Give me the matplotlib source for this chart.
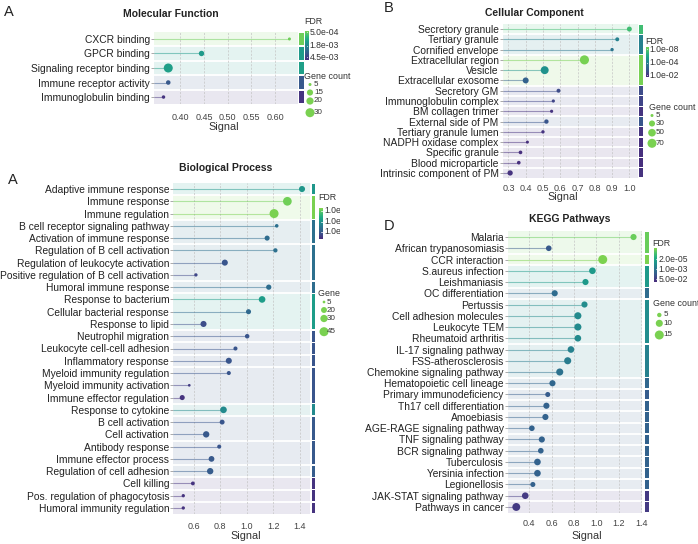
import numpy as np
import matplotlib.pyplot as plt
from matplotlib.colors import ListedColormap
from matplotlib.transforms import Bbox, TransformedBbox

plt.rcParams['font.family'] = ['Liberation Sans', 'DejaVu Sans']

# ---------------- data ----------------
mf_terms = ['CXCR binding', 'GPCR binding', 'Signaling receptor binding',
            'Immune receptor activity', 'Immunoglobulin binding']
mf_signal = [0.63, 0.445, 0.375, 0.375, 0.365]
mf_count = [5, 12, 30, 9, 6]
mf_fdr = [5.0e-4, 1.3e-3, 1.2e-3, 3.3e-3, 5.0e-3]
mf_group = [0, 1, 2, 3, 4]
mf_fdr_ticks = [5.0e-4, 1.8e-3, 4.5e-3]
mf_fdr_pos = [0.94, 0.49, 0.09]
mf_count_legend = [5, 15, 20, 30]

cc_terms = ['Secretory granule', 'Tertiary granule', 'Cornified envelope',
            'Extracellular region', 'Vesicle', 'Extracellular exosome',
            'Secretory GM', 'Immunoglobulin complex', 'BM collagen trimer',
            'External side of PM', 'Tertiary granule lumen', 'NADPH oxidase complex',
            'Specific granule', 'Blood microparticle', 'Intrinsic component of PM']
cc_signal = [1.00, 0.93, 0.90, 0.74, 0.51, 0.40, 0.59, 0.56, 0.55, 0.52,
             0.50, 0.41, 0.37, 0.36, 0.31]
cc_count = [19, 11, 7, 72, 54, 29, 11, 6, 6, 14, 7, 5, 9, 9, 22]
cc_fdr = [1e-7, 1.5e-4, 3.2e-4, 5e-9, 2.8e-5, 1.1e-3, 4e-3, 5.5e-3, 1.3e-2,
          2.3e-3, 1.3e-2, 1.6e-2, 1.6e-2, 1.6e-2, 1.4e-2]
cc_group = [0, 1, 1, 2, 2, 2, 3, 4, 5, 6, 7, 8, 9, 10, 11]
cc_fdr_ticks = [1.0e-8, 1.0e-4, 1.0e-2]
cc_fdr_pos = [0.93, 0.49, 0.07]
cc_count_legend = [5, 30, 50, 70]

bp_terms = ['Adaptive immune response', 'Immune response', 'Immune regulation',
            'B cell receptor signaling pathway', 'Activation of immune response',
            'Regulation of B cell activation', 'Regulation of leukocyte activation',
            'Positive regulation of B cell activation', 'Humoral immune response',
            'Response to bacterium', 'Cellular bacterial response', 'Response to lipid',
            'Neutrophil migration', 'Leukocyte cell-cell adhesion', 'Inflammatory response',
            'Myeloid immunity regulation', 'Myeloid immunity activation',
            'Immune effector regulation', 'Response to cytokine', 'B cell activation',
            'Cell activation', 'Antibody response', 'Immune effector process',
            'Regulation of cell adhesion', 'Cell killing',
            'Pos. regulation of phagocytosis', 'Humoral immunity regulation']
bp_signal = [1.415, 1.305, 1.205, 1.225, 1.153, 1.215, 0.835, 0.618, 1.165,
             1.115, 1.013, 0.675, 1.003, 0.915, 0.865, 0.865, 0.568, 0.515,
             0.825, 0.815, 0.695, 0.793, 0.735, 0.725, 0.595, 0.523, 0.523]
bp_count = [21, 42, 45, 8, 15, 11, 21, 7, 16, 25, 15, 21, 12, 10, 21, 10, 5,
            15, 25, 14, 23, 10, 19, 23, 9, 7, 7]
bp_fdr = [6e-9, 5e-13, 3e-13, 4.5e-6, 1e-5, 4.5e-6, 3.3e-4, 2.3e-3, 8e-6,
          2.6e-9, 1.3e-5, 1e-3, 3.3e-4, 3.3e-4, 3e-4, 3e-4, 1e-2, 4e-2,
          5.6e-8, 3e-4, 2e-4, 3e-4, 2e-4, 1e-4, 3e-2, 4e-2, 4e-2]
bp_group = [0, 1, 1, 2, 2, 3, 3, 3, 4, 5, 5, 5, 6, 7, 8, 9, 9, 9, 10, 11, 11,
            12, 12, 13, 14, 15, 16]
bp_fdr_ticks = [1.0e-12, 1.0e-8, 1.0e-4]
bp_fdr_pos = [0.92, 0.566, 0.245]
bp_count_legend = [5, 20, 30, 45]

kegg_terms = ['Malaria', 'African trypanosomiasis', 'CCR interaction',
              'S.aureus infection', 'Leishmaniasis', 'OC differentiation', 'Pertussis',
              'Cell adhesion molecules', 'Leukocyte TEM', 'Rheumatoid arthritis',
              'IL-17 signaling pathway', 'FSS-atherosclerosis',
              'Chemokine signaling pathway', 'Hematopoietic cell lineage',
              'Primary immunodeficiency', 'Th17 cell differentiation', 'Amoebiasis',
              'AGE-RAGE signaling pathway', 'TNF signaling pathway',
              'BCR signaling pathway', 'Tuberculosis', 'Yersinia infection',
              'Legionellosis', 'JAK-STAT signaling pathway', 'Pathways in cancer']
kegg_signal = [1.332, 0.575, 1.057, 0.965, 0.903, 0.628, 0.894, 0.835, 0.835,
               0.835, 0.773, 0.744, 0.673, 0.608, 0.566, 0.554, 0.545, 0.424,
               0.513, 0.504, 0.474, 0.474, 0.433, 0.365, 0.285]
kegg_count = [8, 7, 15, 9, 8, 8, 8, 10, 10, 9, 9, 10, 10, 8, 6, 8, 8, 7, 8, 7,
              9, 9, 6, 9, 12]
kegg_fdr = [6.8e-7, 7e-3, 4e-7, 5e-5, 5e-5, 1.7e-3, 1.4e-4, 1.7e-4, 1.7e-4,
            1.7e-4, 3.5e-4, 5e-4, 1e-3, 2.5e-3, 4.8e-3, 3.5e-3, 3.5e-3, 3.5e-3,
            3.5e-3, 3.5e-3, 3.5e-3, 3.5e-3, 3.5e-3, 4.9e-2, 4.9e-2]
kegg_group = [0, 0, 1, 2, 2, 3, 4, 4, 4, 4, 5, 5, 5, 6, 7, 8, 9, 10, 11, 12,
              13, 14, 15, 16, 17]
kegg_fdr_ticks = [2.0e-5, 1.0e-3, 5.0e-2]
kegg_fdr_pos = [0.67, 0.37, 0.07]
kegg_count_legend = [5, 10, 15]

# ---------------- figure ----------------
W, H = 698, 544
fig = plt.figure(figsize=(W / 100, H / 100), dpi=100)
cmap = ListedColormap(plt.cm.viridis(np.linspace(0.12, 0.82, 256)))
legend_green = '#7ad151'


def box(x0, y0, x1, y1):
    # pixel box (from top-left) -> figure fraction rect
    return [x0 / W, 1 - y1 / H, (x1 - x0) / W, (y1 - y0) / H]


def fdr_pos(fdr, ticks, tpos):
    L = -np.log10(np.array(ticks))
    tp = np.array(tpos, dtype=float)
    o = np.argsort(L)
    L, tp = L[o], tp[o]
    s0 = (tp[1] - tp[0]) / (L[1] - L[0])
    s1 = (tp[-1] - tp[-2]) / (L[-1] - L[-2])
    L = np.r_[L[0] - tp[0] / s0, L, L[-1] + (1 - tp[-1]) / s1]
    tp = np.r_[0, tp, 1]
    return np.interp(-np.log10(np.array(fdr)), L, tp)


ov = fig.add_axes([0, 0, 1, 1], zorder=10)
ov.set_xlim(0, W)
ov.set_ylim(H, 0)
ov.axis('off')


def draw_panel(terms, signal, fdr, count, group, cb_ticks, cb_pos, leg_counts, L):
    n = len(terms)
    y = np.arange(n)
    t = fdr_pos(fdr, cb_ticks, cb_pos)
    cols = cmap(t)
    c0, c1 = leg_counts[0], leg_counts[-1]
    s0, s1 = L['srange']

    def size(c):
        return s0 + (s1 - s0) * (np.array(c, dtype=float) - c0) / (c1 - c0)

    ax = fig.add_axes(box(*L['ax']))
    ax.set_xlim(*L['xlim'])
    ax.set_ylim(n - 0.5, -0.5)
    gax = fig.add_axes(box(L['gx'][0], L['ax'][1], L['gx'][1], L['ax'][3]))
    gax.set_ylim(n - 0.5, -0.5)
    gax.set_xlim(0, 1)
    gax.axis('off')

    group = np.array(group)
    for g in np.unique(group):
        idx = np.where(group == g)[0]
        c = np.array(cmap(t[idx].max()))
        lo, hi = idx.min() - 0.5, idx.max() + 0.5
        ax.axhspan(lo, hi, color=0.88 + 0.12 * c[:3], lw=0, zorder=0)
        gax.axhspan(lo + 0.06, hi - 0.06, color=c, lw=0)
        if idx.max() < n - 1:
            ax.axhline(hi, color='white', lw=1.3, zorder=1)

    for xt in L['xticks']:
        ax.axvline(xt, color='#c4c4c4', lw=0.5, ls=(0, (3, 2)), zorder=1.5)

    ax.hlines(y, L['xlim'][0], signal, colors=cols, lw=0.8, alpha=0.5, zorder=2)
    ax.scatter(signal, y, s=size(count), c=cols, linewidths=0, zorder=3)

    ax.set_yticks(y)
    ax.set_yticklabels(terms)
    ax.set_xticks(L['xticks'])
    ax.set_xticklabels(L['xlabels'])
    ax.tick_params(axis='x', length=0, labelsize=6.5, labelcolor='#444444', pad=L['xpad'])
    ax.tick_params(axis='y', length=2, width=0.5, color='#888888', labelsize=7.4,
                   labelcolor='#222222', pad=1)
    for sp in ax.spines.values():
        sp.set_visible(False)

    # titles and labels
    arts = []
    ov.text(*L['title'], L['name'], fontsize=7.5, fontweight='bold', ha='center',
            va='center', color='#222222')
    ov.text(*L['letter'], L['tag'], fontsize=10.5, ha='left', va='center', color='#222222')
    ov.text(*L['xlab'], 'Signal', fontsize=7.8, ha='center', va='center', color='#333333')

    # FDR colour bar
    cx0, cy0, cx1, cy1 = L['cb']
    cax = fig.add_axes(box(cx0, cy0, cx1, cy1))
    cax.imshow(np.linspace(0, 1, 256)[:, None], cmap=cmap, origin='lower',
               aspect='auto', extent=[0, 1, 0, 1])
    cax.axis('off')
    for v, p in zip(cb_ticks, cb_pos):
        cax.plot([0.6, 1.0], [p, p], color='white', lw=0.5)
        arts.append(ov.text(cx1 + 1.5, cy1 - p * (cy1 - cy0), f'{v:.1e}', fontsize=6.2,
                            ha='left', va='center', color='#333333'))
    arts.append(ov.text(*L['fdr_title'], 'FDR', fontsize=6.4, ha='left', va='center',
                        color='#333333'))

    # gene count legend
    arts.append(ov.text(*L['gc_title'], 'Gene count', fontsize=6.4, ha='left',
                        va='center', color='#333333'))
    gx_c, gx_l = L['gc_x']
    sc = ov.scatter([gx_c] * len(leg_counts), L['gc_y'], s=size(leg_counts),
                    color=legend_green, linewidths=0)
    arts.append(sc)
    for c, yy in zip(leg_counts, L['gc_y']):
        arts.append(ov.text(gx_l, yy, str(c), fontsize=5.8, ha='left', va='center',
                            color='#333333'))
    if L.get('clip') is not None:
        cb = TransformedBbox(Bbox([[0, 0], [L['clip'] / W, 1]]), fig.transFigure)
        for a in arts:
            a.set_clip_on(True)
            a.set_clip_box(cb)


draw_panel(mf_terms, mf_signal, mf_fdr, mf_count, mf_group, mf_fdr_ticks, mf_fdr_pos,
           mf_count_legend, dict(
               name='Molecular Function', tag='A', ax=(154, 31.7, 298, 104.3),
               xlim=(0.345, 0.648), xticks=[0.40, 0.45, 0.50, 0.55, 0.60],
               xlabels=['0.40', '0.45', '0.50', '0.55', '0.60'], xpad=6.0,
               gx=(299, 303.5), cb=(305, 30.7, 308.3, 60), fdr_title=(304, 21.5),
               gc_title=(304, 76.5), gc_y=[84.5, 92.5, 101, 112.7], gc_x=(310, 314),
               srange=(4.7, 42), title=(171, 14), letter=(4, 12), xlab=(224, 127.3)))

draw_panel(cc_terms, cc_signal, cc_fdr, cc_count, cc_group, cc_fdr_ticks, cc_fdr_pos,
           cc_count_legend, dict(
               name='Cellular Component', tag='B', ax=(502.7, 23.9, 638, 178.1),
               xlim=(0.267, 1.05), xticks=[0.3, 0.4, 0.5, 0.6, 0.7, 0.8, 0.9, 1.0],
               xlabels=['0.3', '0.4', '0.5', '0.6', '0.7', '0.8', '0.9', '1.0'], xpad=3.9,
               gx=(639, 643), cb=(645.7, 47.3, 648.3, 77.3), fdr_title=(645, 41.5),
               gc_title=(649, 107), gc_y=[115.5, 123.5, 132.7, 143.3], gc_x=(652, 655.5),
               srange=(4.7, 42), title=(534.5, 12.7), letter=(384, 8.5),
               xlab=(562.5, 197.3)))

draw_panel(bp_terms, bp_signal, bp_fdr, bp_count, bp_group, bp_fdr_ticks, bp_fdr_pos,
           bp_count_legend, dict(
               name='Biological Process', tag='A', ax=(173.3, 182.9, 310, 514.1),
               xlim=(0.448, 1.475), xticks=[0.6, 0.8, 1.0, 1.2, 1.4],
               xlabels=['0.6', '0.8', '1.0', '1.2', '1.4'], xpad=5.8,
               gx=(311.7, 315.3), cb=(319.3, 208.3, 322.7, 239.3), fdr_title=(318.5, 198),
               gc_title=(318.5, 294), gc_y=[302, 310, 318.5, 331.7], gc_x=(324, 327),
               srange=(3.8, 42), title=(225.3, 167.7), letter=(8, 179.5),
               xlab=(246, 536), clip=340))

draw_panel(kegg_terms, kegg_signal, kegg_fdr, kegg_count, kegg_group, kegg_fdr_ticks,
           kegg_fdr_pos, kegg_count_legend, dict(
               name='KEGG Pathways', tag='D', ax=(508, 231.4, 641.7, 512.6),
               xlim=(0.211, 1.405), xticks=[0.4, 0.6, 0.8, 1.0, 1.2, 1.4],
               xlabels=['0.4', '0.6', '0.8', '1.0', '1.2', '1.4'], xpad=4.5,
               gx=(645, 649.3), cb=(654.3, 248.3, 656.7, 281.7), fdr_title=(652, 243.3),
               gc_title=(653, 303), gc_y=[315, 323.3, 335], gc_x=(659.3, 663.5),
               srange=(10, 42), title=(570, 219.3), letter=(384, 226),
               xlab=(586.7, 535.7)))

fig.savefig('out.png', dpi=100)
